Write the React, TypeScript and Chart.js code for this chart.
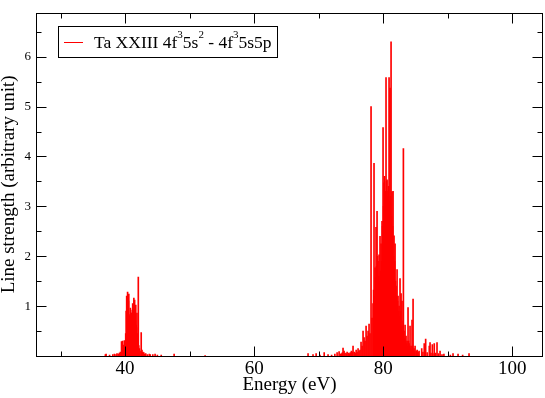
import React, { useEffect, useRef } from "react";
import { Chart, registerables } from "chart.js";

Chart.register(...registerables);

// ---- data ----
const xMajorTicks = [40, 60, 80, 100];
const xMinorTicks = [30, 50, 70, 90];
const yMajorTicks = [1, 2, 3, 4, 5, 6];
const yMinorTicks = [0.5, 1.5, 2.5, 3.5, 4.5, 5.5, 6.5];

const seriesName = "Ta XXIII 4f35s2 - 4f35s5p";
const legendParts: [string, boolean][] = [
  ["Ta XXIII 4f", false], ["3", true], ["5s", false], ["2", true],
  [" - 4f", false], ["3", true], ["5s5p", false],
];

const energiesLow = [
  36.95, 37.06, 37.6, 38.1, 38.35, 38.6, 38.75, 38.95, 39.12, 39.28,
  39.45, 39.62, 39.78, 39.9, 40.02, 40.1, 40.17, 40.25, 40.32, 40.39,
  40.46, 40.52, 40.58, 40.64, 40.7, 40.76, 40.82, 40.88, 40.94, 41.0,
  41.06, 41.12, 41.18, 41.24, 41.3, 41.36, 41.42, 41.48, 41.54, 41.6,
  41.66, 41.72, 41.78, 41.84, 41.9, 41.97, 42.05, 42.12, 42.22, 42.32,
  42.5, 42.62, 42.75, 42.9, 43.05, 43.2, 43.45, 43.75, 43.9, 44.3,
  44.65, 45.0, 45.6, 47.6, 52.4,
];
const strengthsLow = [
  0.03, 0.04, 0.02, 0.03, 0.04, 0.03, 0.05, 0.04, 0.06, 0.08,
  0.29, 0.3, 0.22, 0.31, 0.12, 0.45, 0.9, 1.2, 1.05, 1.28,
  0.95, 1.1, 1.24, 0.8, 0.72, 0.83, 0.96, 0.7, 0.86, 0.78,
  0.86, 0.92, 1.05, 0.75, 0.95, 1.16, 0.85, 1.12, 0.9, 0.7,
  1.02, 0.62, 0.57, 0.86, 0.45, 0.3, 1.58, 0.21, 0.15, 0.1,
  0.47, 0.12, 0.08, 0.07, 0.04, 0.05, 0.03, 0.04, 0.03, 0.03,
  0.04, 0.02, 0.02, 0.04, 0.01,
];

const energiesHigh = [
  68.35, 69.12, 69.6, 70.2, 70.85, 71.45, 72.0, 72.5, 72.85, 73.16,
  73.37, 73.53, 73.68, 73.77, 73.93, 74.08, 74.25, 74.4, 74.6, 74.77,
  74.9, 75.06, 75.22, 75.32, 75.5, 75.65, 75.8, 75.95, 76.1, 76.25,
  76.4, 76.56, 76.72, 76.87, 77.03, 77.18, 77.34, 77.49, 77.65, 77.8,
  77.95, 78.11, 78.26, 78.42, 78.5, 78.57, 78.65, 78.73, 78.8, 78.88,
  78.96, 79.04, 79.11, 79.19, 79.27, 79.35, 79.43, 79.5, 79.58, 79.66,
  79.73, 79.81, 79.89, 79.97, 80.05, 80.12, 80.2, 80.28, 80.35, 80.43,
  80.51, 80.59, 80.66, 80.74, 80.82, 80.9, 80.98, 81.05, 81.13, 81.21,
  81.29, 81.36, 81.44, 81.52, 81.6, 81.67, 81.75, 81.83, 81.9, 81.98,
  82.06, 82.14, 82.22, 82.29, 82.37, 82.45, 82.53, 82.6, 82.68, 82.76,
  82.84, 82.91, 83.0, 83.07, 83.12, 83.22, 83.3, 83.38, 83.45, 83.53,
  83.6, 83.69, 83.76, 83.84, 83.92, 84.0, 84.08, 84.15, 84.23, 84.31,
  84.39, 84.46, 84.54, 84.62, 84.7, 84.77, 84.85, 84.93, 85.1, 85.25,
  85.4, 85.55, 85.96, 86.15, 86.35, 86.57, 86.8, 87.13, 87.25, 87.4,
  87.6, 87.7, 87.9, 88.1, 88.33, 88.55, 88.8, 89.1, 89.4, 90.4,
  90.81, 91.59, 92.3, 93.29,
];
const strengthsHigh = [
  0.05, 0.03, 0.05, 0.02, 0.07, 0.03, 0.02, 0.04, 0.07, 0.09,
  0.04, 0.05, 0.07, 0.16, 0.1, 0.06, 0.05, 0.08, 0.06, 0.05,
  0.07, 0.1, 0.08, 0.2, 0.08, 0.06, 0.12, 0.08, 0.15, 0.1,
  0.12, 0.28, 0.2, 0.5, 0.37, 0.3, 0.6, 0.4, 0.5, 0.64,
  0.45, 5.0, 0.76, 1.05, 1.32, 3.86, 1.2, 1.77, 1.57, 2.58,
  1.8, 2.9, 2.0, 1.9, 1.6, 2.03, 1.5, 2.4, 1.7, 2.25,
  1.9, 2.7, 2.6, 4.58, 3.0, 3.47, 3.6, 3.26, 3.3, 5.58,
  3.5, 3.53, 3.2, 3.3, 3.4, 5.58, 3.1, 5.37, 3.2, 6.3,
  2.8, 3.29, 2.6, 3.3, 2.0, 2.41, 1.9, 2.25, 1.5, 1.4,
  1.2, 1.73, 1.1, 1.2, 0.9, 1.0, 0.8, 1.55, 0.9, 1.25,
  0.6, 1.1, 0.5, 0.7, 4.16, 0.5, 0.35, 0.62, 0.3, 0.4,
  0.25, 0.3, 0.2, 0.97, 0.3, 0.25, 0.2, 0.6, 0.15, 0.2,
  0.12, 0.72, 0.2, 1.14, 0.1, 0.15, 0.08, 0.2, 0.1, 0.12,
  0.08, 0.1, 0.15, 0.08, 0.25, 0.34, 0.07, 0.2, 0.27, 0.06,
  0.23, 0.05, 0.25, 0.06, 0.27, 0.05, 0.1, 0.03, 0.04, 0.02,
  0.05, 0.04, 0.02, 0.05,
];

const X_MIN = 26.2;
const X_MAX = 104.75;
const Y_MIN = 0;
const Y_MAX = 6.88;

const FONT = '"Liberation Serif", "Times New Roman", serif';
const LINE_COLOR = "#ff0000";

const frameTicksPlugin = {
  id: "frameTicks",
  afterDatasetsDraw(chart: any) {
    const { ctx, chartArea, scales } = chart;
    const { left, right, top, bottom } = chartArea;
    const xs = scales.x;
    const ys = scales.y;
    const L = Math.round(left) + 0.5;
    const R = Math.round(right) - 0.5;
    const T = Math.round(top) + 0.5;
    const B = Math.round(bottom) + 0.5;
    ctx.save();
    ctx.strokeStyle = "#000";
    ctx.lineWidth = 1;
    ctx.beginPath();
    const xt = (vals: number[], len: number) => {
      vals.forEach((v) => {
        const p = Math.round(xs.getPixelForValue(v)) + 0.5;
        ctx.moveTo(p, B);
        ctx.lineTo(p, B - len);
        ctx.moveTo(p, T);
        ctx.lineTo(p, T + len);
      });
    };
    const yt = (vals: number[], len: number) => {
      vals.forEach((v) => {
        const p = Math.round(ys.getPixelForValue(v)) + 0.5;
        ctx.moveTo(L, p);
        ctx.lineTo(L + len, p);
        ctx.moveTo(R, p);
        ctx.lineTo(R - len, p);
      });
    };
    xt(xMajorTicks, 10);
    xt(xMinorTicks, 5);
    yt(yMajorTicks, 10);
    yt(yMinorTicks, 5);
    ctx.stroke();
    ctx.strokeRect(L, T, R - L, B - T);
    ctx.restore();
  },
};

const legendPlugin = {
  id: "graceLegend",
  afterDraw(chart: any) {
    const { ctx } = chart;
    const ds = chart.data.datasets[0];
    ctx.save();
    ctx.strokeStyle = "#000";
    ctx.lineWidth = 1;
    ctx.strokeRect(58.5, 26.5, 219, 31);
    ctx.strokeStyle = ds.backgroundColor;
    ctx.beginPath();
    ctx.moveTo(64, 42.5);
    ctx.lineTo(83, 42.5);
    ctx.stroke();
    ctx.fillStyle = "#000";
    ctx.textBaseline = "alphabetic";
    ctx.textAlign = "left";
    let x = 94;
    const base = 48;
    legendParts.forEach(([txt, sup]) => {
      ctx.font = sup ? `11px ${FONT}` : `17.5px ${FONT}`;
      ctx.fillText(txt, x, sup ? base - 10.5 : base);
      x += ctx.measureText(txt).width;
    });
    ctx.restore();
  },
};

export default function App() {
  const ref = useRef<HTMLCanvasElement>(null);
  useEffect(() => {
    if (!ref.current) return;
    const points = [
      ...energiesLow.map((e, i) => ({ x: e, y: strengthsLow[i] })),
      ...energiesHigh.map((e, i) => ({ x: e, y: strengthsHigh[i] })),
    ];
    const chart = new Chart(ref.current, {
      type: "bar",
      data: {
        datasets: [
          {
            label: seriesName,
            data: points,
            backgroundColor: LINE_COLOR,
            borderWidth: 0,
            barThickness: 1,
          } as any,
        ],
      },
      options: {
        animation: false,
        responsive: false,
        devicePixelRatio: 1,
        layout: { padding: { top: 1, right: 2, left: 0, bottom: 0 } },
        plugins: { legend: { display: false }, tooltip: { enabled: false } },
        scales: {
          x: {
            type: "linear",
            offset: false,
            min: X_MIN,
            max: X_MAX,
            grid: { display: false, drawTicks: false },
            border: { display: false },
            afterBuildTicks: (s: any) => {
              s.ticks = xMajorTicks.map((v) => ({ value: v }));
            },
            afterFit: (s: any) => {
              s.height = 42;
            },
            ticks: {
              color: "#000",
              padding: 2,
              maxRotation: 0,
              autoSkip: false,
              font: { family: FONT, size: 19 },
              callback: (v: any) => String(v),
            },
            title: {
              display: true,
              text: "Energy (eV)",
              color: "#000",
              font: { family: FONT, size: 19, lineHeight: 1 },
              padding: { top: 0, bottom: 3 },
            },
          },
          y: {
            type: "linear",
            min: Y_MIN,
            max: Y_MAX,
            grid: { display: false, drawTicks: false },
            border: { display: false },
            afterBuildTicks: (s: any) => {
              s.ticks = yMajorTicks.map((v) => ({ value: v }));
            },
            afterFit: (s: any) => {
              s.width = 36;
            },
            ticks: {
              color: "#000",
              padding: 5,
              autoSkip: false,
              font: { family: FONT, size: 13 },
              callback: (v: any) => String(v),
            },
            title: {
              display: true,
              text: "Line strength (arbitrary unit)",
              color: "#000",
              font: { family: FONT, size: 19, lineHeight: 1 },
              padding: { top: 0, bottom: 0 },
            },
          },
        },
      },
      plugins: [frameTicksPlugin, legendPlugin],
    });
    return () => chart.destroy();
  }, []);
  return (
    <div style={{ position: "absolute", left: 0, top: 0, width: 545, height: 398, background: "#fff" }}>
      <canvas ref={ref} width={545} height={398} style={{ width: 545, height: 398, display: "block" }} />
    </div>
  );
}
